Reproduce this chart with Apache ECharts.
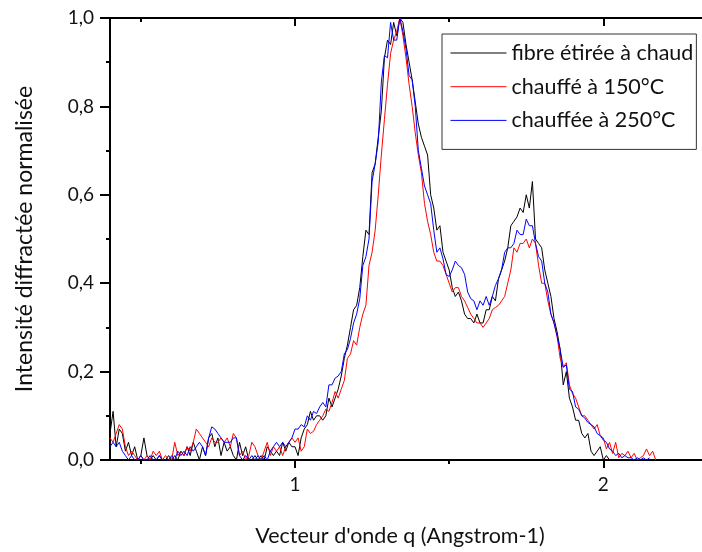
<!DOCTYPE html>
<html>
<head>
<meta charset="utf-8">
<script src="https://cdn.jsdelivr.net/npm/echarts@6/dist/echarts.min.js"></script>
<style>html,body{margin:0;padding:0;background:#fff;}#c{width:702px;height:552px;}</style>
</head>
<body>
<div id="c"></div>
<script>
// sampling grid of the scans (q in Angstrom^-1)
const Q_START = 0.40;
const Q_STEP = 0.01;
const seriesNames = ["fibre étirée à chaud", "chauffé à 150°C", "chauffée à 250°C"];
const xTickLabels = [1, 2];
const xMinorTicks = [0.5, 1.5];
const xAxisTitle = "Vecteur d'onde q (Angstrom-1)";
const yAxisTitle = "Intensité diffractée normalisée";

const black = [
0.06,0.11,0.03,0.07,0.06,0.02,0.04,0.01,0.03,0.00,
0.01,0.05,0.01,0.00,0.01,0.00,0.01,0.00,0.00,0.01,
0.00,0.01,0.00,0.02,0.01,0.03,0.01,0.04,0.02,0.00,
0.03,0.01,0.05,0.06,0.03,0.05,0.01,0.04,0.02,0.03,
0.01,0.00,0.04,0.01,0.03,0.00,0.00,0.01,0.00,0.01,
0.00,0.03,0.02,0.01,0.02,0.01,0.04,0.02,0.04,0.03,
0.03,0.01,0.05,0.07,0.08,0.11,0.09,0.10,0.10,0.09,
0.10,0.14,0.12,0.14,0.16,0.19,0.23,0.26,0.30,0.34,
0.35,0.39,0.46,0.52,0.51,0.65,0.67,0.73,0.79,0.91,
0.95,0.94,0.99,0.96,1.00,0.99,0.94,0.90,0.86,0.81,
0.76,0.73,0.71,0.69,0.60,0.57,0.52,0.53,0.47,0.45,
0.43,0.39,0.37,0.38,0.36,0.33,0.32,0.32,0.31,0.33,
0.31,0.31,0.34,0.34,0.37,0.36,0.41,0.43,0.45,0.48,
0.53,0.54,0.55,0.57,0.56,0.60,0.57,0.63,0.50,0.49,
0.48,0.43,0.40,0.37,0.32,0.29,0.25,0.17,0.20,0.14,
0.12,0.09,0.09,0.06,0.05,0.06,0.02,0.01,0.02,0.03,
0.00,0.01,0.00
];

const red = [
0.05,0.04,0.06,0.08,0.07,0.03,0.01,0.02,0.01,0.00,
0.01,0.00,0.01,0.00,0.02,0.01,0.02,0.00,0.01,0.00,
0.00,0.04,0.01,0.02,0.01,0.03,0.02,0.04,0.07,0.06,
0.05,0.04,0.03,0.05,0.04,0.04,0.05,0.04,0.05,0.03,
0.06,0.05,0.01,0.02,0.00,0.01,0.04,0.03,0.01,0.00,
0.02,0.04,0.01,0.03,0.02,0.03,0.01,0.03,0.04,0.05,
0.04,0.05,0.02,0.03,0.07,0.06,0.065,0.08,0.09,0.10,
0.115,0.11,0.13,0.155,0.14,0.16,0.18,0.23,0.24,0.27,
0.26,0.30,0.33,0.35,0.44,0.47,0.52,0.60,0.69,0.77,
0.85,0.92,0.95,0.97,1.00,0.96,0.91,0.85,0.80,0.74,
0.69,0.65,0.58,0.54,0.51,0.47,0.45,0.45,0.44,0.42,
0.40,0.38,0.39,0.39,0.37,0.36,0.345,0.33,0.32,0.31,
0.31,0.30,0.31,0.32,0.34,0.345,0.35,0.36,0.37,0.40,
0.43,0.48,0.47,0.49,0.49,0.50,0.48,0.50,0.49,0.44,
0.40,0.40,0.36,0.33,0.31,0.28,0.23,0.21,0.22,0.17,
0.15,0.14,0.12,0.10,0.10,0.09,0.08,0.07,0.08,0.055,
0.05,0.025,0.04,0.015,0.04,0.005,0.015,0.01,0.02,0.005,
0.015,0.00,0.005,0.01,0.025,0.01,0.02,0.00
];

const blue = [
0.03,0.04,0.03,0.04,0.02,0.01,0.00,0.01,0.00,0.00,
0.01,0.00,0.00,0.01,0.00,0.00,0.01,0.00,0.00,0.00,
0.01,0.00,0.02,0.01,0.02,0.01,0.03,0.02,0.03,0.04,
0.03,0.01,0.05,0.075,0.07,0.06,0.05,0.04,0.04,0.04,
0.05,0.05,0.01,0.00,0.01,0.00,0.01,0.00,0.01,0.00,
0.01,0.00,0.02,0.03,0.04,0.03,0.04,0.03,0.04,0.05,
0.07,0.07,0.08,0.075,0.10,0.09,0.11,0.105,0.12,0.13,
0.12,0.17,0.17,0.185,0.19,0.20,0.24,0.25,0.275,0.31,
0.33,0.365,0.44,0.46,0.50,0.63,0.67,0.72,0.855,0.915,
0.91,0.99,0.95,0.95,1.00,0.97,0.93,0.87,0.86,0.80,
0.70,0.66,0.62,0.60,0.58,0.52,0.47,0.48,0.455,0.42,
0.415,0.43,0.45,0.44,0.435,0.42,0.38,0.365,0.36,0.34,
0.36,0.35,0.37,0.35,0.37,0.395,0.41,0.43,0.47,0.48,
0.48,0.49,0.52,0.51,0.51,0.545,0.53,0.53,0.49,0.46,
0.45,0.40,0.38,0.33,0.31,0.28,0.25,0.21,0.215,0.16,
0.155,0.12,0.115,0.10,0.095,0.085,0.08,0.075,0.06,0.055,
0.045,0.04,0.025,0.02,0.01,0.015,0.005,0.01,0.005,0.005,
0.00,0.005,0.00,0.005,0.00,0.005
];

function pairs(vals) {
  return vals.map((v, i) => [+(Q_START + i * Q_STEP).toFixed(2), v]);
}

const FONT = 'Lato';
const X_MIN = 0.4, X_MAX = 2.32;
const axisBase = {
  type: 'value', min: X_MIN, max: X_MAX,
  splitLine: { show: false }
};

const chart = echarts.init(document.getElementById('c'), null, { renderer: 'canvas' });
chart.setOption({
  animation: false,
  backgroundColor: '#fff',
  textStyle: { fontFamily: FONT },
  grid: { left: 110, top: 18, right: 0, bottom: 90, containLabel: false },
  legend: {
    orient: 'vertical',
    left: 442, top: 34,
    padding: [8, 3, 18, 8],
    itemWidth: 56, itemHeight: 20, itemGap: 11.7,
    borderColor: '#333', borderWidth: 1,
    backgroundColor: '#fff',
    itemStyle: { opacity: 0, borderWidth: 0 },
    lineStyle: { width: 1, opacity: 1 },
    textStyle: { fontFamily: FONT, fontSize: 21.5, color: '#111', lineHeight: 20 },
    data: seriesNames
  },
  xAxis: [
    Object.assign({}, axisBase, {
      position: 'bottom',
      name: xAxisTitle, nameLocation: 'middle', nameGap: 65,
      nameTextStyle: { fontFamily: FONT, fontSize: 21.5, color: '#111', padding: [0, 12, 0, 0] },
      axisLine: { show: true, onZero: false, lineStyle: { color: '#000', width: 2 } },
      axisTick: { show: true, inside: false, length: 8, customValues: xTickLabels, lineStyle: { color: '#000', width: 2 } },
      axisLabel: { show: true, customValues: xTickLabels, margin: 15, fontFamily: FONT, fontSize: 19, color: '#111' }
    }),
    Object.assign({}, axisBase, {
      position: 'bottom',
      axisLine: { show: false },
      axisTick: { show: true, inside: false, length: 4, customValues: xMinorTicks, lineStyle: { color: '#000', width: 2 } },
      axisLabel: { show: false }
    }),
    Object.assign({}, axisBase, {
      position: 'top',
      axisLine: { show: true, onZero: false, lineStyle: { color: '#000', width: 2 } },
      axisTick: { show: true, inside: true, length: 8, customValues: xTickLabels, lineStyle: { color: '#000', width: 2 } },
      axisLabel: { show: false }
    }),
    Object.assign({}, axisBase, {
      position: 'top',
      axisLine: { show: false },
      axisTick: { show: true, inside: true, length: 4, customValues: xMinorTicks, lineStyle: { color: '#000', width: 2 } },
      axisLabel: { show: false }
    })
  ],
  yAxis: {
    type: 'value', min: 0, max: 1, interval: 0.2,
    name: yAxisTitle, nameLocation: 'middle', nameGap: 74, nameRotate: 90,
    nameTextStyle: { fontFamily: FONT, fontSize: 23, color: '#111' },
    axisLine: { show: true, onZero: false, lineStyle: { color: '#000', width: 2 } },
    axisTick: { show: true, inside: false, length: 10, lineStyle: { color: '#000', width: 2 } },
    minorTick: { show: true, splitNumber: 2, length: 4, lineStyle: { color: '#000', width: 2 } },
    axisLabel: { margin: 16, fontFamily: FONT, fontSize: 19, color: '#111',
      formatter: v => v.toFixed(1).replace('.', ',') },
    splitLine: { show: false },
    minorSplitLine: { show: false }
  },
  series: [
    { name: seriesNames[0], type: 'line', xAxisIndex: 0, data: pairs(black), showSymbol: false, symbol: 'none',
      lineStyle: { color: '#000', width: 1 }, itemStyle: { color: '#000' } },
    { name: seriesNames[1], type: 'line', xAxisIndex: 0, data: pairs(red), showSymbol: false, symbol: 'none',
      lineStyle: { color: '#ff0000', width: 1 }, itemStyle: { color: '#ff0000' } },
    { name: seriesNames[2], type: 'line', xAxisIndex: 0, data: pairs(blue), showSymbol: false, symbol: 'none',
      lineStyle: { color: '#0000ff', width: 1 }, itemStyle: { color: '#0000ff' } }
  ]
});
</script>
</body>
</html>
